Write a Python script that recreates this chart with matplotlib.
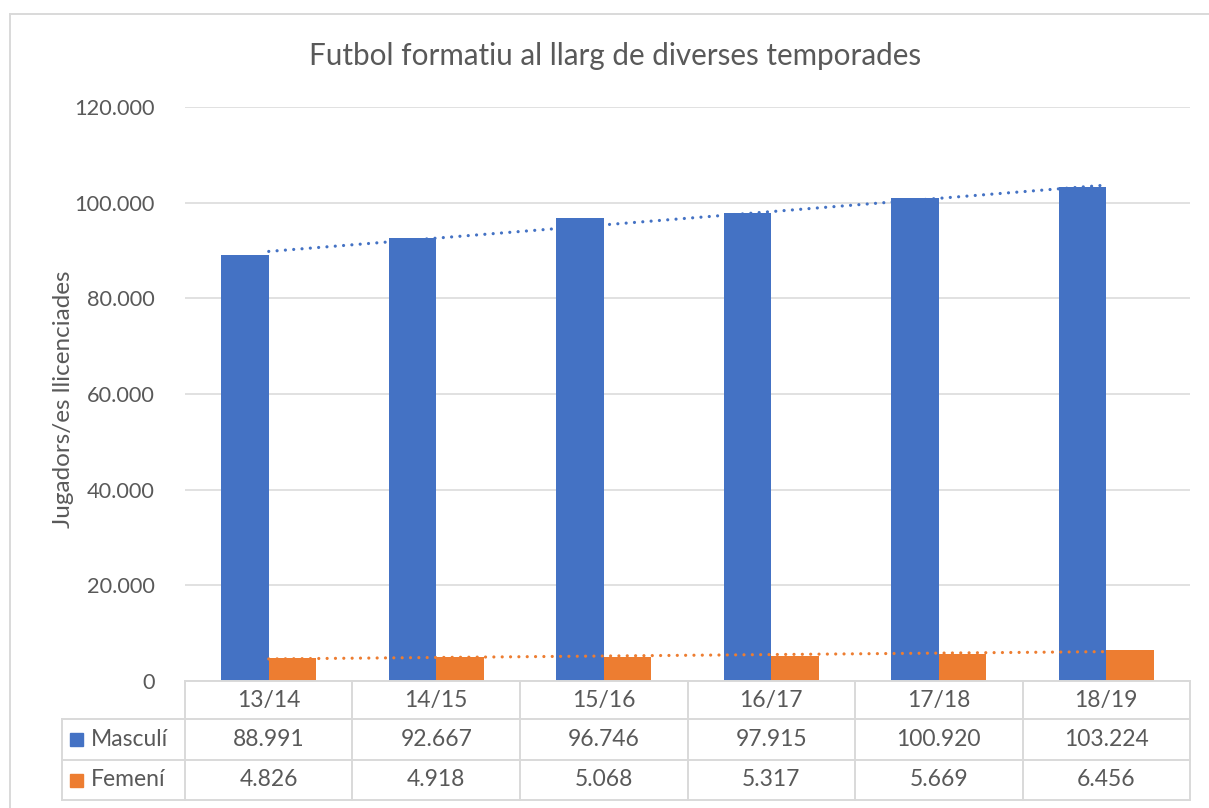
import numpy as np
import matplotlib
matplotlib.use("Agg")
import matplotlib.pyplot as plt
from matplotlib.patches import Rectangle
from matplotlib.lines import Line2D

plt.rcParams['font.family'] = ['Lato', 'DejaVu Sans']

# ---- data ----
title = "Futbol formatiu al llarg de diverses temporades"
ylabel = "Jugadors/es llicenciades"
seasons = ["13/14", "14/15", "15/16", "16/17", "17/18", "18/19"]
series_names = ["Masculí", "Femení"]
masculi = [88991, 92667, 96746, 97915, 100920, 103224]
femeni = [4826, 4918, 5068, 5317, 5669, 6456]
yticks = [0, 20000, 40000, 60000, 80000, 100000, 120000]

BLUE = "#4472C4"
ORANGE = "#ED7D31"
TXT = "#595959"
GRID = "#D9D9D9"

W, H = 1209, 808
fig = plt.figure(figsize=(W / 100, H / 100), dpi=100)

def fx(x):
    return x / W

def fy(y):
    return 1 - y / H

L, R, T, B = 185, 1190, 107, 681
ax = fig.add_axes([fx(L), fy(B), fx(R) - fx(L), fy(T) - fy(B)])

def fmt(v):
    return f"{v:,}".replace(",", ".")

n = len(seasons)
x = np.arange(n)
bw = 0.284
ax.bar(x - bw / 2, masculi, width=bw, color=BLUE, zorder=2)
ax.bar(x + bw / 2, femeni, width=bw, color=ORANGE, zorder=2)

# linear trendlines
for vals, col in [(masculi, BLUE), (femeni, ORANGE)]:
    p = np.polyfit(x, vals, 1)
    ax.plot(x, np.polyval(p, x), color=col, lw=2.3,
            linestyle=(0, (0.01, 2.6)), dash_capstyle='round', zorder=3)

ax.set_xlim(-0.5, n - 0.5)
ax.set_ylim(0, 120000)
ax.set_yticks(yticks)
ax.set_yticklabels([fmt(v) for v in yticks])
ax.tick_params(axis='y', length=0, pad=22, labelsize=15.7, labelcolor=TXT)
ax.tick_params(axis='x', length=0, labelbottom=False)
ax.grid(axis='y', color=GRID, lw=1.1, zorder=0)
for s in ['top', 'right', 'left']:
    ax.spines[s].set_visible(False)
ax.spines['bottom'].set_color(GRID)
ax.spines['bottom'].set_linewidth(1.4)

# title & y label
fig.text(fx(615), fy(56), title, ha='center', va='center', fontsize=21.3,
         color=TXT)
fig.text(fx(63), fy(399), ylabel, ha='center', va='center', rotation=90,
         fontsize=17.5, color=TXT)

# ---- data table ----
cw = (R - L) / n
rows = [681, 719, 760, 800]
tl = 62
lc = dict(color=GRID, lw=1.4, transform=fig.transFigure)
# horizontal
for yy in rows[1:]:
    fig.add_artist(Line2D([fx(tl), fx(R)], [fy(yy)] * 2, **lc))
# vertical
fig.add_artist(Line2D([fx(tl)] * 2, [fy(rows[1]), fy(rows[3])], **lc))
for k in range(n + 1):
    xx = L + k * cw
    fig.add_artist(Line2D([fx(xx)] * 2, [fy(rows[0]), fy(rows[3])], **lc))

tfs = 16.5
for k, s in enumerate(seasons):
    cx = L + (k + 0.5) * cw
    fig.text(fx(cx), fy((rows[0] + rows[1]) / 2), s, ha='center', va='center',
             fontsize=tfs, color=TXT)
    fig.text(fx(cx), fy((rows[1] + rows[2]) / 2), fmt(masculi[k]), ha='center',
             va='center', fontsize=tfs, color=TXT)
    fig.text(fx(cx), fy((rows[2] + rows[3]) / 2), fmt(femeni[k]), ha='center',
             va='center', fontsize=tfs, color=TXT)

for r, (name, col) in enumerate(zip(series_names, [BLUE, ORANGE])):
    cy = (rows[r + 1] + rows[r + 2]) / 2
    sq = 13
    fig.add_artist(Rectangle((fx(70), fy(cy + sq / 2)), sq / W, sq / H,
                             color=col, transform=fig.transFigure))
    fig.text(fx(91), fy(cy), name, ha='left', va='center', fontsize=tfs, color=TXT)

# chart frame
fc = dict(color=GRID, lw=1.4, transform=fig.transFigure)
fig.add_artist(Line2D([fx(10), 1.0], [fy(14)] * 2, **fc))
fig.add_artist(Line2D([fx(10)] * 2, [fy(14), 0.0], **fc))

fig.savefig("out.png", dpi=100, facecolor='white')
